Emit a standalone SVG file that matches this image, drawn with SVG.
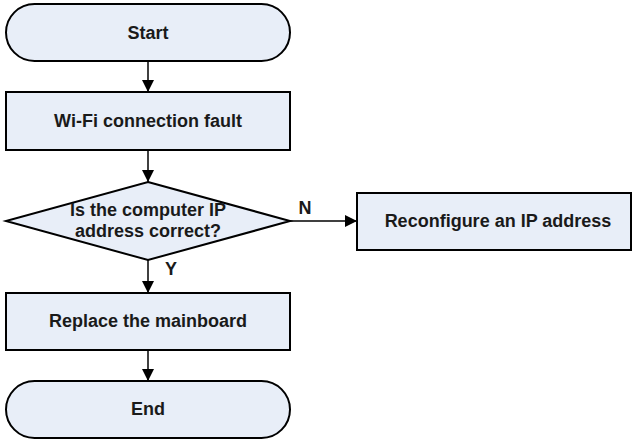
<svg xmlns="http://www.w3.org/2000/svg" width="632" height="440" viewBox="0 0 632 440">
<defs>
<style>
.n{fill:#e8eef8;stroke:#000;stroke-width:2}
.t{font-family:"Liberation Sans",Arial,sans-serif;font-weight:bold;font-size:18px;fill:#1a1a1a;text-anchor:middle}
.c{stroke:#000;stroke-width:1.5;fill:none;marker-end:url(#b)}
</style>
<marker id="b" viewBox="0 0 12 12" refX="12" refY="6" markerWidth="12" markerHeight="12" markerUnits="userSpaceOnUse" orient="auto">
<path d="M0,0 L12,6 L0,12 z" fill="#000"/>
</marker>
</defs>
<g id="start"><rect class="n" x="6" y="4" width="284" height="57" rx="28.5"/><text class="t" x="148" y="39">Start</text></g>
<g id="fault"><rect class="n" x="6" y="92" width="284" height="58"/><text class="t" x="148" y="127">Wi-Fi connection fault</text></g>
<g id="decision"><polygon class="n" points="148,182 290,221 148,260 6,221"/><text class="t" x="148" y="216">Is the computer IP</text><text class="t" x="148" y="237">address correct?</text></g>
<g id="reconfig"><rect class="n" x="357" y="193" width="274" height="57"/><text class="t" x="498" y="227">Reconfigure an IP address</text></g>
<g id="replace"><rect class="n" x="6" y="293" width="284" height="57"/><text class="t" x="148" y="327">Replace the mainboard</text></g>
<g id="end"><rect class="n" x="6" y="381" width="284" height="57" rx="28.5"/><text class="t" x="148" y="415">End</text></g>
<g id="connectors">
<path class="c" d="M148,61 V92"/>
<path class="c" d="M148,150 V182"/>
<path class="c" d="M290,221 H357"/>
<path class="c" d="M148,260 V293"/>
<path class="c" d="M148,350 V381"/>
<text class="t" x="305" y="214">N</text>
<text class="t" x="171" y="275">Y</text>
</g>
</svg>
